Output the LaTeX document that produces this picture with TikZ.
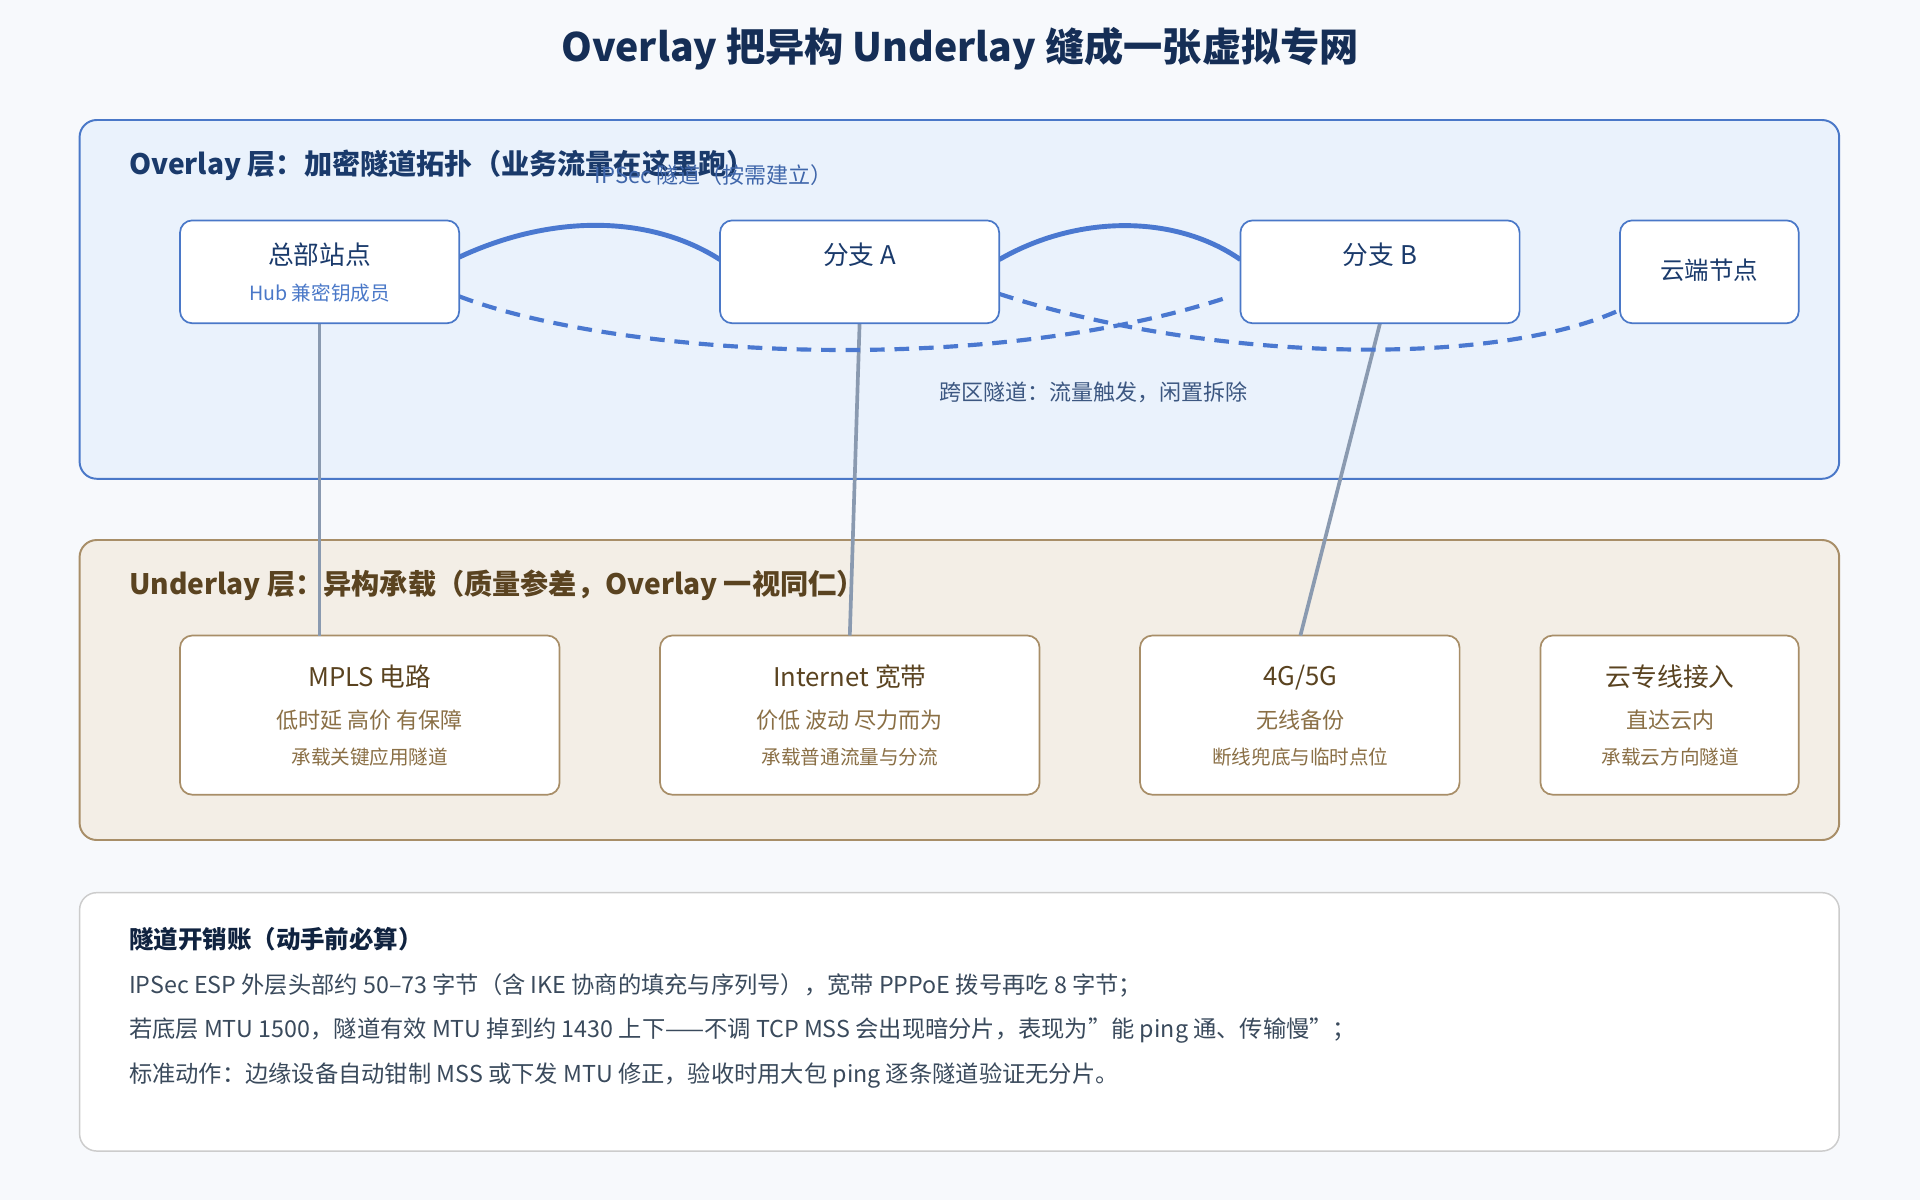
\documentclass[tikz,border=0pt]{standalone}
\usepackage{fontspec}
\setmainfont{Noto Sans CJK SC}
\begin{document}
\begin{tikzpicture}[x=0.5pt,y=-0.5pt,
  ovbox/.style={draw=ovs,fill=white,rounded corners=5pt,line width=0.7pt},
  unbox/.style={draw=uns,fill=white,rounded corners=5pt,line width=0.7pt},
  link/.style={draw=gl,line width=1.5pt},
  tun/.style={draw=tb,line width=2pt},
  dtun/.style={draw=tb,line width=1.7pt,dash pattern=on 6pt off 4pt},
  txt/.style={inner sep=0pt,anchor=center}]
\definecolor{bg}{HTML}{F7F9FC}
\definecolor{ovf}{HTML}{EAF2FC}
\definecolor{ovs}{HTML}{4A78C8}
\definecolor{ovt}{HTML}{1A3A6B}
\definecolor{unf}{HTML}{F3EEE6}
\definecolor{uns}{HTML}{A88E68}
\definecolor{unt}{HTML}{5A4320}
\definecolor{uns2}{HTML}{8A6F45}
\definecolor{tb}{HTML}{4A78D0}
\definecolor{gl}{HTML}{8A9AB0}
\definecolor{bt}{HTML}{3A4A5C}
\useasboundingbox[fill=bg] (0,0) rectangle (1568,980);
\node[txt,font=\fontsize{16}{18}\selectfont\bfseries,text=ovt!80!black] (title) at (784,40) {Overlay 把异构 Underlay 缝成一张虚拟专网};
% boxes
\draw[draw=ovs,fill=ovf,rounded corners=7pt,line width=0.8pt] (65,98) rectangle (1502,391);
\node[txt,anchor=west,font=\fontsize{11.5}{13}\selectfont\bfseries,text=ovt] (ovh) at (105,135) {Overlay 层：加密隧道拓扑（业务流量在这里跑）};
\draw[draw=uns,fill=unf,rounded corners=7pt,line width=0.8pt] (65,441) rectangle (1502,686);
\node[txt,anchor=west,font=\fontsize{11.5}{13}\selectfont\bfseries,text=unt] (unh) at (105,478) {Underlay 层：异构承载（质量参差，Overlay 一视同仁）};
\draw[draw=gray!40,fill=white,rounded corners=7pt,line width=0.6pt] (65,729) rectangle (1502,940);
% underlay nodes
\draw[unbox] (147,519) rectangle (457,649);
\draw[unbox] (539,519) rectangle (849,649);
\draw[unbox] (931,519) rectangle (1192,649);
\draw[unbox] (1258,519) rectangle (1469,649);
\coordinate (u1) at (261,519);
\coordinate (u2) at (694,519);
\coordinate (u3) at (1062,519);
\foreach \x/\a/\b/\c in {302/{MPLS 电路}/{低时延 高价 有保障}/{承载关键应用隧道},694/{Internet 宽带}/{价低 波动 尽力而为}/{承载普通流量与分流},1062/{4G{/}5G}/{无线备份}/{断线兜底与临时点位},1364/{云专线接入}/{直达云内}/{承载云方向隧道}}{
  \node[txt,font=\fontsize{10.5}{12}\selectfont,text=unt] at (\x,553) {\a};
  \node[txt,font=\fontsize{9}{11}\selectfont,text=uns2] at (\x,588) {\b};
  \node[txt,font=\fontsize{8}{10}\selectfont,text=uns2] at (\x,618) {\c};
}
% overlay nodes
\coordinate (hqb) at (261,264);
\coordinate (ab) at (702,264);
\coordinate (bb) at (1127,264);
\draw[link] (hqb) -- (u1);
\draw[link] (ab) -- (u2);
\draw[link] (bb) -- (u3);
\draw[tun] (375,210) .. controls (450,175) and (530,175) .. (588,212);
\draw[tun] (816,212) .. controls (880,175) and (960,175) .. (1013,212);
\draw[dtun] (375,242) .. controls (500,290) and (800,310) .. (1005,242);
\draw[dtun] (816,240) .. controls (1000,300) and (1250,300) .. (1340,244);
\draw[ovbox] (147,180) rectangle (375,264);
\draw[ovbox] (588,180) rectangle (816,264);
\draw[ovbox] (1013,180) rectangle (1241,264);
\draw[ovbox] (1323,180) rectangle (1469,264);
\node[txt,font=\fontsize{10.5}{12}\selectfont,text=ovt] (hq) at (261,208) {总部站点};
\node[txt,font=\fontsize{8}{10}\selectfont,text=ovs] (hqs) at (261,239) {Hub 兼密钥成员};
\node[txt,font=\fontsize{10.5}{12}\selectfont,text=ovt] (a) at (702,208) {分支 A};
\node[txt,font=\fontsize{10.5}{12}\selectfont,text=ovt] (b) at (1127,208) {分支 B};
\node[txt,font=\fontsize{10}{12}\selectfont,text=ovt] (c) at (1396,221) {云端节点};
\node[txt,font=\fontsize{9}{11}\selectfont,text=ovs!85!black] (l1) at (583,143) {IPSec 隧道（按需建立）};
\node[txt,font=\fontsize{9}{11}\selectfont,text=ovt!85!white] (l2) at (893,320) {跨区隧道：流量触发，闲置拆除};
% bottom
\node[txt,anchor=west,font=\fontsize{10}{12}\selectfont\bfseries,text=ovt!60!black] (bh) at (105,767) {隧道开销账（动手前必算）};
\node[txt,anchor=west,font=\fontsize{9.5}{12}\selectfont,text=bt] (b1) at (105,805) {IPSec ESP 外层头部约 50–73 字节（含 IKE 协商的填充与序列号），宽带 PPPoE 拨号再吃 8 字节；};
\node[txt,anchor=west,font=\fontsize{9.5}{12}\selectfont,text=bt] (b2) at (105,842) {若底层 MTU 1500，隧道有效 MTU 掉到约 1430 上下——不调 TCP MSS 会出现暗分片，表现为\symbol{34}能 ping 通、传输慢\symbol{34}；};
\node[txt,anchor=west,font=\fontsize{9.5}{12}\selectfont,text=bt] (b3) at (105,878) {标准动作：边缘设备自动钳制 MSS 或下发 MTU 修正，验收时用大包 ping 逐条隧道验证无分片。};
\end{tikzpicture}
\end{document}
